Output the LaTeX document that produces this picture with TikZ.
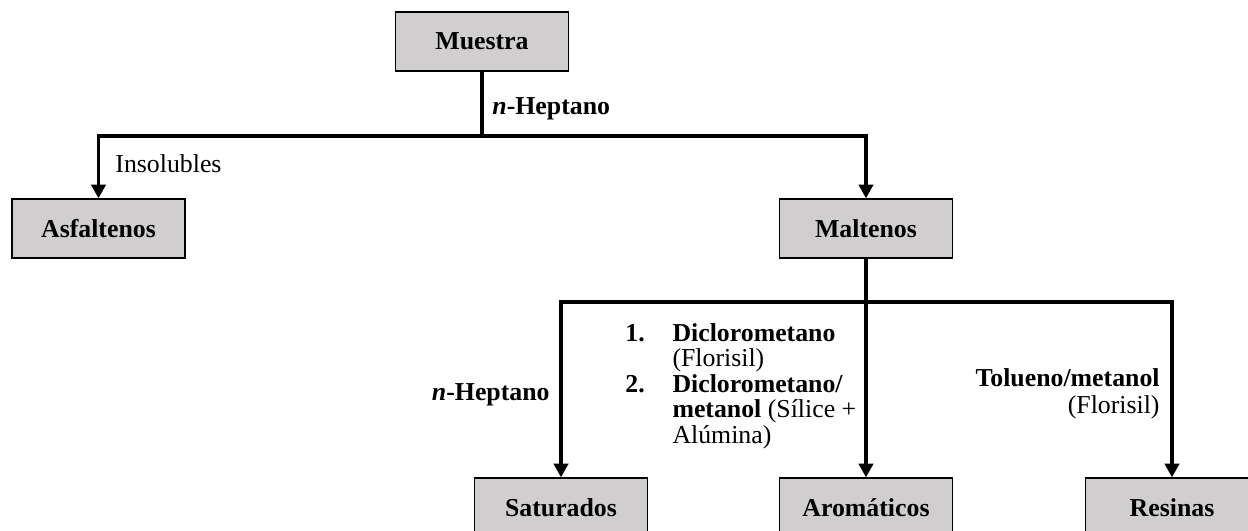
\documentclass[tikz,border=0pt]{standalone}
\usepackage{fontspec}
\setmainfont{Liberation Serif}
\usetikzlibrary{arrows.meta}
\definecolor{boxgray}{RGB}{208,206,206}

\begin{document}
\begin{tikzpicture}[
    x=0.465pt,
    y=-0.465pt,
    fraction/.style={
        draw,
        line width=0.6pt,
        fill=boxgray,
        minimum width=80.4pt,
        minimum height=27.4pt,
        inner sep=0pt,
        font=\fontsize{12}{13}\selectfont\bfseries
    },
    flow/.style={
        draw,
        line width=1.85pt
    },
    flow arrow/.style={
        flow,
        -{Triangle[width=6.6pt,length=6.4pt]}
    },
    solvent/.style={
        inner sep=0pt,
        font=\fontsize{12}{11.6}\selectfont
    },
    ]
    \useasboundingbox (0,0) rectangle (1248,531);

    \node [fraction] (muestra) at (482,41.5) {Muestra};
    \node [fraction] (asfaltenos) at (98.5,228.5) {Asfaltenos};
    \node [fraction] (maltenos) at (866,228.5) {Maltenos};
    \node [fraction] (saturados) at (561,507.5) {Saturados};
    \node [fraction] (aromaticos) at (866,507.5) {Arom\'aticos};
    \node [fraction] (resinas) at (1172,507.5) {Resinas};

    \coordinate (split1) at (482,136);
    \coordinate (split2) at (866,302);

    \draw [flow] (muestra) -- (split1);
    \draw [flow arrow] (split1) -| (asfaltenos);
    \draw [flow arrow] (split1) -| (maltenos);
    \draw [flow] (maltenos) -- (split2);
    \draw [flow arrow] (split2) -| (saturados);
    \draw [flow arrow] (split2) -- (aromaticos);
    \draw [flow arrow] (split2) -| (resinas);

    \node [solvent, anchor=base west] (heptano1) at (492,115) {\textbf{\textit{n}-Heptano}};
    \node [solvent, anchor=base west] (insolubles) at (115,173) {Insolubles};
    \node [solvent, anchor=base east] (heptano2) at (550,400) {\textbf{\textit{n}-Heptano}};
    \node [solvent, anchor=west] (dicloro) at (625,387) {%
        \begin{tabular}{@{}p{21.9pt}@{}l@{}}
            \textbf{1.} & \textbf{Diclorometano}\\
                        & (Florisil)\\
            \textbf{2.} & \textbf{Diclorometano/}\\
                        & \textbf{metanol} (S\'ilice +\\
                        & Al\'umina)
        \end{tabular}};
    \node [solvent, anchor=east, font=\fontsize{12}{12.5}\selectfont] (tolueno) at (1160,395) {%
        \begin{tabular}{@{}r@{}}
            \textbf{Tolueno/metanol}\\
            (Florisil)
        \end{tabular}};
\end{tikzpicture}
\end{document}
